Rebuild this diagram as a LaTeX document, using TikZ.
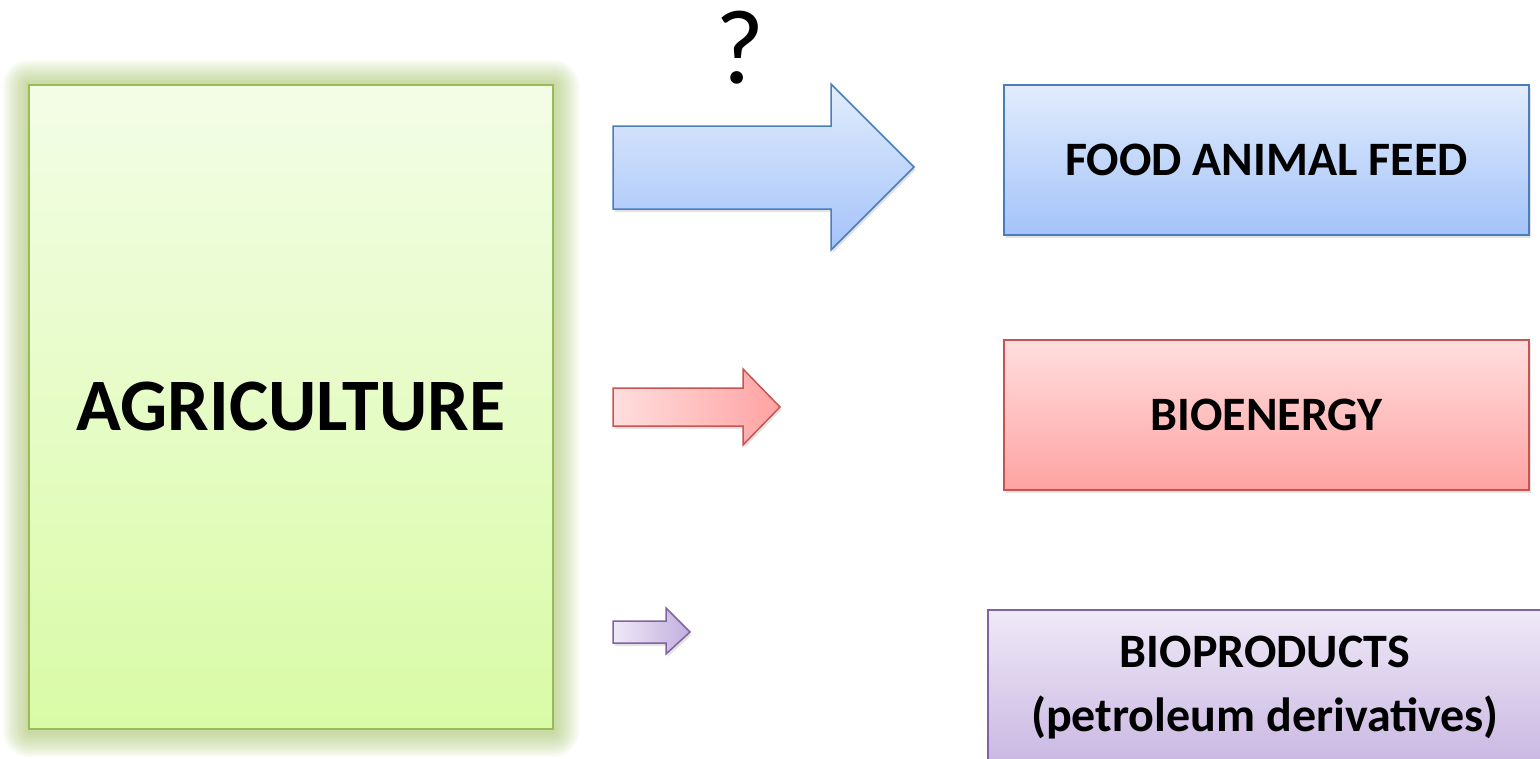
\documentclass[tikz,border=0pt]{standalone}
\usepackage{fontspec}
\setmainfont{Carlito}
\usetikzlibrary{shadows}
\definecolor{agriborder}{HTML}{9BBB59}
\definecolor{agritop}{HTML}{F3FDE6}
\definecolor{agribot}{HTML}{D9FBA6}
\definecolor{blueborder}{HTML}{4A7EBB}
\definecolor{bluetop}{HTML}{E2ECFD}
\definecolor{bluebot}{HTML}{A4C3F9}
\definecolor{redborder}{HTML}{C65552}
\definecolor{redtop}{HTML}{FFDEDE}
\definecolor{redbot}{HTML}{FFA2A2}
\definecolor{purpborder}{HTML}{8064A2}
\definecolor{purptop}{HTML}{EFE9F7}
\definecolor{purpbot}{HTML}{C6B2E0}
\tikzset{
  shadowed/.style={drop shadow={shadow xshift=1.5pt, shadow yshift=-3pt, opacity=0.22}},
  cattext/.style={inner sep=0pt, outer sep=0pt,
    font=\bfseries\fontsize{48}{64}\selectfont, align=center, text=black},
  catbox/.style={cattext, shape=rectangle, line width=1.5pt, shadowed},
  arrowshape/.style={line width=1.5pt, line join=miter, shadowed},
}
\begin{document}
\begin{tikzpicture}[x=1pt,y=-1pt]
\useasboundingbox (0,0) rectangle (1540,758);
\clip (0,0) rectangle (1540,758);
% glow round the agriculture box
\foreach \d in {26,24,...,2}
  \fill[agriborder, opacity=0.06, rounded corners=\d pt] (29-\d,86-\d) rectangle (553+\d,731+\d);
\node[draw=agriborder, line width=2.5pt, top color=agritop, bottom color=agribot,
  minimum width=524pt, minimum height=644pt, inner sep=0pt, outer sep=0pt,
  font=\bfseries\fontsize{74}{84}\selectfont] (agri) at (291,407) {AGRICULTURE};

% question mark
\node[font=\fontsize{106}{116}\selectfont, inner sep=0pt] (qmark) at (740,48) {?};

% arrows
\shade[arrowshape, draw=blueborder, top color=bluetop, bottom color=bluebot]
  (613,126) -- (831,126) -- (831,84) -- (914,167) -- (831,250) -- (831,209) -- (613,209) -- cycle;
\shade[arrowshape, draw=redborder, left color=redtop, right color=redbot]
  (613,388) -- (743,388) -- (743,369) -- (780,407) -- (743,445) -- (743,426) -- (613,426) -- cycle;
\shade[arrowshape, draw=purpborder, left color=purptop, right color=purpbot!95!purpborder]
  (613,621) -- (666,621) -- (666,608) -- (690,632) -- (666,654) -- (666,643) -- (613,643) -- cycle;

% category boxes
\node[catbox, draw=blueborder, top color=bluetop, bottom color=bluebot,
  minimum width=525pt, minimum height=150pt] (food) at (1266.5,160) {FOOD ANIMAL FEED};
\node[catbox, draw=redborder, top color=redtop, bottom color=redbot,
  minimum width=525pt, minimum height=150pt] (bioen) at (1266.5,415) {BIOENERGY};
\node[catbox, draw=purpborder, top color=purptop, bottom color=purpbot,
  minimum width=562pt, minimum height=170pt] (bioprod) at (1269,695) {};
\node[cattext] (bioprodtext) at (1265,688)
  {BIOPRODUCTS\\(petroleum derivatives)};
\end{tikzpicture}
\end{document}
